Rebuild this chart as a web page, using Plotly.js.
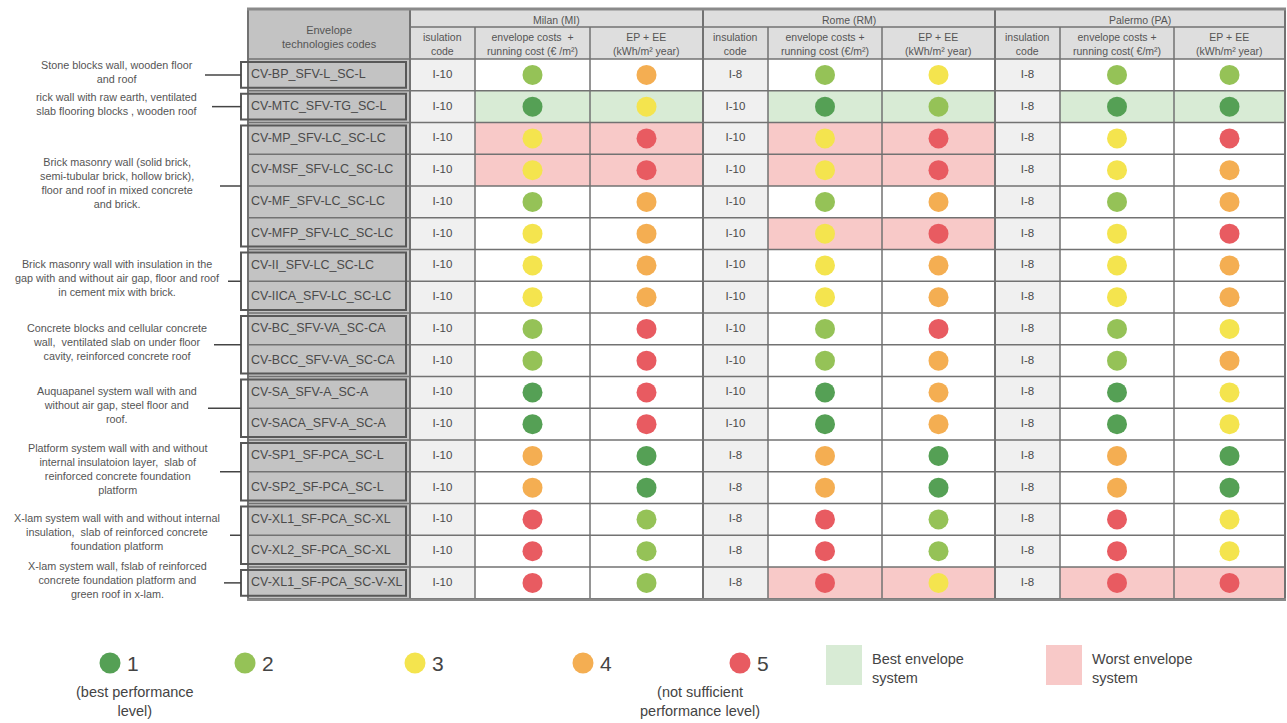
<!DOCTYPE html>
<html><head><meta charset="utf-8">
<script src="https://cdn.plot.ly/plotly-3.0.1.min.js"></script>
<style>html,body{margin:0;padding:0;background:#fff}#chart{width:1287px;height:723px}</style>
</head><body><div id="chart"></div>
<script>
// ---------------- DATA ----------------
const codes = ["CV-BP_SFV-L_SC-L","CV-MTC_SFV-TG_SC-L","CV-MP_SFV-LC_SC-LC","CV-MSF_SFV-LC_SC-LC","CV-MF_SFV-LC_SC-LC","CV-MFP_SFV-LC_SC-LC","CV-II_SFV-LC_SC-LC","CV-IICA_SFV-LC_SC-LC","CV-BC_SFV-VA_SC-CA","CV-BCC_SFV-VA_SC-CA","CV-SA_SFV-A_SC-A","CV-SACA_SFV-A_SC-A","CV-SP1_SF-PCA_SC-L","CV-SP2_SF-PCA_SC-L","CV-XL1_SF-PCA_SC-XL","CV-XL2_SF-PCA_SC-XL","CV-XL1_SF-PCA_SC-V-XL"];

const cityNames = ["Milan (MI)","Rome (RM)","Palermo (PA)"];
const insulationHeaders = ["isulation<br>code","insulation<br>code","insulation<br>code"];
const costHeaders = ["envelope costs  +<br>running cost (€ /m²)","envelope costs +<br>running cost (€/m²)","envelope costs +<br>running cost( €/m²)"];
const epHeaders = ["EP + EE<br>(kWh/m² year)","EP + EE<br>(kWh/m² year)","EP + EE<br>(kWh/m² year)"];

const milanInsulation = ["I-10","I-10","I-10","I-10","I-10","I-10","I-10","I-10","I-10","I-10","I-10","I-10","I-10","I-10","I-10","I-10","I-10"];
const milanCost = [2,1,3,3,2,3,3,3,2,2,1,1,4,4,5,5,5];
const milanEP   = [4,3,5,5,4,4,4,4,5,5,5,5,1,1,2,2,2];
const milanHighlight = ["","best","worst","worst","","","","","","","","","","","","",""];

const romeInsulation = ["I-8","I-10","I-10","I-10","I-10","I-10","I-10","I-10","I-10","I-10","I-10","I-10","I-8","I-8","I-8","I-8","I-8"];
const romeCost = [2,1,3,3,2,3,3,3,2,2,1,1,4,4,5,5,5];
const romeEP   = [3,2,5,5,4,5,4,4,5,4,4,4,1,1,2,2,3];
const romeHighlight = ["","best","worst","worst","","worst","","","","","","","","","","","worst"];

const palermoInsulation = ["I-8","I-8","I-8","I-8","I-8","I-8","I-8","I-8","I-8","I-8","I-8","I-8","I-8","I-8","I-8","I-8","I-8"];
const palermoCost = [2,1,3,3,2,3,3,3,2,2,1,1,4,4,5,5,5];
const palermoEP   = [2,1,5,4,4,5,4,4,3,4,3,3,1,1,3,3,5];
const palermoHighlight = ["","best","","","","","","","","","","","","","","","worst"];

const groupFirstRow = [0,1,2,6,8,10,12,14,16];
const groupLastRow  = [0,1,5,7,9,11,13,15,16];
const groupDescriptions = [
  "Stone blocks wall, wooden floor<br>and roof",
  "rick wall with raw earth, ventilated<br>slab flooring blocks , wooden roof",
  "Brick masonry wall (solid brick,<br>semi-tubular brick, hollow brick),<br>floor and roof in mixed concrete<br>and brick.",
  "Brick masonry wall with insulation in the<br>gap with and without air gap, floor and roof<br>in cement mix with brick.",
  "Concrete blocks and cellular concrete<br>wall,  ventilated slab on under floor<br>cavity, reinforced concrete roof",
  "Auquapanel system wall with and<br>without air gap, steel floor and<br>roof.",
  "Platform system wall with and without<br>internal insulatoion layer,  slab of<br>reinforced concrete foundation<br>platform",
  "X-lam system wall with and without internal<br>insulation,  slab of reinforced concrete<br>foundation platform",
  "X-lam system wall, fslab of reinforced<br>concrete foundation platform and<br>green roof in x-lam."
];

const levels = [1,2,3,4,5];
const levelLabels = ["1","2","3","4","5"];
const levelNotes = ["(best performance<br>level)","","","","(not sufficient<br>performance level)"];
const highlightLabels = ["Best envelope<br>system","Worst envelope<br>system"];

// ---------------- STYLE / LAYOUT CONSTANTS ----------------
const levelColors = ["#55a055","#95c257","#f4e44e","#f4ae52","#e85b61"];
const hlColors = {best:"#d8ebd5", worst:"#f8c9c8"};
const W = 1287, H = 723;
const colEdges = [248,410,475,590,703,768,882,995,1060,1174,1285];
const tableTop = 10, headMid = 27, bodyTop = 59, rowH = 31.75;
const nRows = codes.length;
const rowCenter = i => bodyTop + (i + 0.5) * rowH;
const bodyBottom = bodyTop + nRows * rowH;
const lineCol = "#727272";
const textCol = "#4a4a4a";
const FONT = "Liberation Sans, Arial, sans-serif";
const descRightX = [205,212,220,228,214,208,220,230,224];
const legendDotX = [110,245,415,583,740];
const legendY = 663;

const cities = [
  {name:cityNames[0], ins:milanInsulation, cost:milanCost, ep:milanEP, hl:milanHighlight},
  {name:cityNames[1], ins:romeInsulation, cost:romeCost, ep:romeEP, hl:romeHighlight},
  {name:cityNames[2], ins:palermoInsulation, cost:palermoCost, ep:palermoEP, hl:palermoHighlight}
];

const shapes = [];
const annotations = [];
const traces = [];
const rect = (x0,x1,y0,y1,fill,line) => shapes.push({type:"rect",xref:"x",yref:"y",x0,x1,y0,y1,layer:"below",fillcolor:fill||"rgba(0,0,0,0)",line:line||{width:0}});
const seg = (x0,y0,x1,y1,color,width) => shapes.push({type:"line",xref:"x",yref:"y",x0,y0,x1,y1,layer:"below",line:{color:color||lineCol,width:width||1.5}});
const cx = k => (colEdges[k] + colEdges[k+1]) / 2;

// backgrounds
rect(colEdges[0], colEdges[1], tableTop, bodyBottom, "#c3c3c3");
rect(colEdges[1], colEdges[10], tableTop, bodyTop, "#dedede");
cities.forEach((c, ci) => {
  const k = 1 + 3*ci;
  rect(colEdges[k], colEdges[k+1], bodyTop, bodyBottom, "#f0f0f0");
  c.hl.forEach((h, i) => {
    if (h) rect(colEdges[k+1], colEdges[k+3], bodyTop + i*rowH, bodyTop + (i+1)*rowH, hlColors[h]);
  });
});

// grid lines
for (let i = 0; i <= nRows; i++) seg(colEdges[0], bodyTop + i*rowH, colEdges[10], bodyTop + i*rowH);
seg(colEdges[1], headMid, colEdges[10], headMid);
colEdges.forEach((x, k) => {
  const city = (k - 1) % 3 === 0 || k === 0 || k === 10;
  seg(x, city ? tableTop : headMid, x, bodyBottom, lineCol, city ? 2 : 1.5);
});
seg(colEdges[0]-1, tableTop-1, colEdges[10]+1, tableTop-1, "#8a8a8a", 3);
seg(colEdges[0]-1, bodyBottom+1, colEdges[10]+1, bodyBottom+1, "#8a8a8a", 2.5);

// group boxes, brackets, leaders, descriptions
groupFirstRow.forEach((g0, g) => {
  const y0 = bodyTop + g0*rowH + 3, y1 = bodyTop + (groupLastRow[g]+1)*rowH - 3;
  rect(241, 406, y0, y1, null, {color:"#585858", width:2});
  const ym = (y0 + y1) / 2;
  seg(descRightX[g], ym, 241, ym, "#444", 1.5);
  annotations.push({x:117, y:ym - 3, xref:"x", yref:"y", text:groupDescriptions[g], showarrow:false,
    xanchor:"center", yanchor:"middle", align:"center", font:{family:FONT, size:10.8, color:"#555"}});
});

// header texts
annotations.push({x:cx(0), y:(tableTop+bodyTop)/2 + 2, xref:"x", yref:"y", text:"Envelope<br>technologies codes", showarrow:false,
  font:{family:FONT, size:11, color:"#555"}, align:"center"});
cities.forEach((c, ci) => {
  const k = 1 + 3*ci;
  annotations.push({x:(colEdges[k]+colEdges[k+3])/2, y:(tableTop+headMid)/2 + 1, xref:"x", yref:"y", text:c.name, showarrow:false,
    font:{family:FONT, size:10.5, color:"#555"}});
  [insulationHeaders[ci], costHeaders[ci], epHeaders[ci]].forEach((t, j) => {
    annotations.push({x:cx(k+j), y:(headMid+bodyTop)/2 + 1, xref:"x", yref:"y", text:t, showarrow:false,
      font:{family:FONT, size:10.5, color:"#555"}, align:"center"});
  });
});

// code texts
traces.push({type:"scatter", mode:"text", x:codes.map(() => 251), y:codes.map((_, i) => rowCenter(i)),
  text:codes, textposition:"middle right", textfont:{family:FONT, size:12.5, color:textCol}, hoverinfo:"skip", showlegend:false});

// city cells
cities.forEach((c, ci) => {
  const k = 1 + 3*ci;
  traces.push({type:"scatter", mode:"text", x:c.ins.map(() => cx(k)), y:c.ins.map((_, i) => rowCenter(i)),
    text:c.ins, textposition:"middle center", textfont:{family:FONT, size:11.5, color:textCol}, hoverinfo:"skip", showlegend:false});
  [c.cost, c.ep].forEach((vals, j) => {
    traces.push({type:"scatter", mode:"markers", x:vals.map(() => cx(k+1+j)), y:vals.map((_, i) => rowCenter(i)),
      marker:{size:20, opacity:1, color:vals.map(v => levelColors[v-1]), line:{width:0}}, hoverinfo:"skip", showlegend:false});
  });
});

// legend
traces.push({type:"scatter", mode:"markers", x:legendDotX, y:levels.map(() => legendY),
  marker:{size:21, opacity:1, color:levels.map(v => levelColors[v-1]), line:{width:0}}, hoverinfo:"skip", showlegend:false});
levels.forEach((v, i) => {
  annotations.push({x:legendDotX[i] + 15, y:legendY, xref:"x", yref:"y", text:levelLabels[i], showarrow:false,
    xanchor:"left", yanchor:"middle", font:{family:FONT, size:21, color:"#444"}});
});
annotations.push({x:135, y:701, xref:"x", yref:"y", text:levelNotes[0], showarrow:false, align:"center",
  font:{family:FONT, size:14.5, color:"#444"}});
annotations.push({x:700, y:701, xref:"x", yref:"y", text:levelNotes[4], showarrow:false, align:"center",
  font:{family:FONT, size:14.5, color:"#444"}});
rect(826, 862, 645, 685, hlColors.best);
rect(1046, 1082, 645, 685, hlColors.worst);
annotations.push({x:870, y:668, xref:"x", yref:"y", text:highlightLabels[0], showarrow:false, align:"left", xanchor:"left",
  font:{family:FONT, size:14.5, color:"#444"}});
annotations.push({x:1090, y:668, xref:"x", yref:"y", text:highlightLabels[1], showarrow:false, align:"left", xanchor:"left",
  font:{family:FONT, size:14.5, color:"#444"}});

const layout = {
  width:W, height:H, margin:{l:0,r:0,t:0,b:0}, paper_bgcolor:"#fff", plot_bgcolor:"#fff",
  xaxis:{range:[0,W], visible:false, fixedrange:true},
  yaxis:{range:[H,0], visible:false, fixedrange:true},
  showlegend:false, shapes, annotations
};
Plotly.newPlot("chart", traces, layout, {displayModeBar:false, staticPlot:true});
</script>
</body></html>
